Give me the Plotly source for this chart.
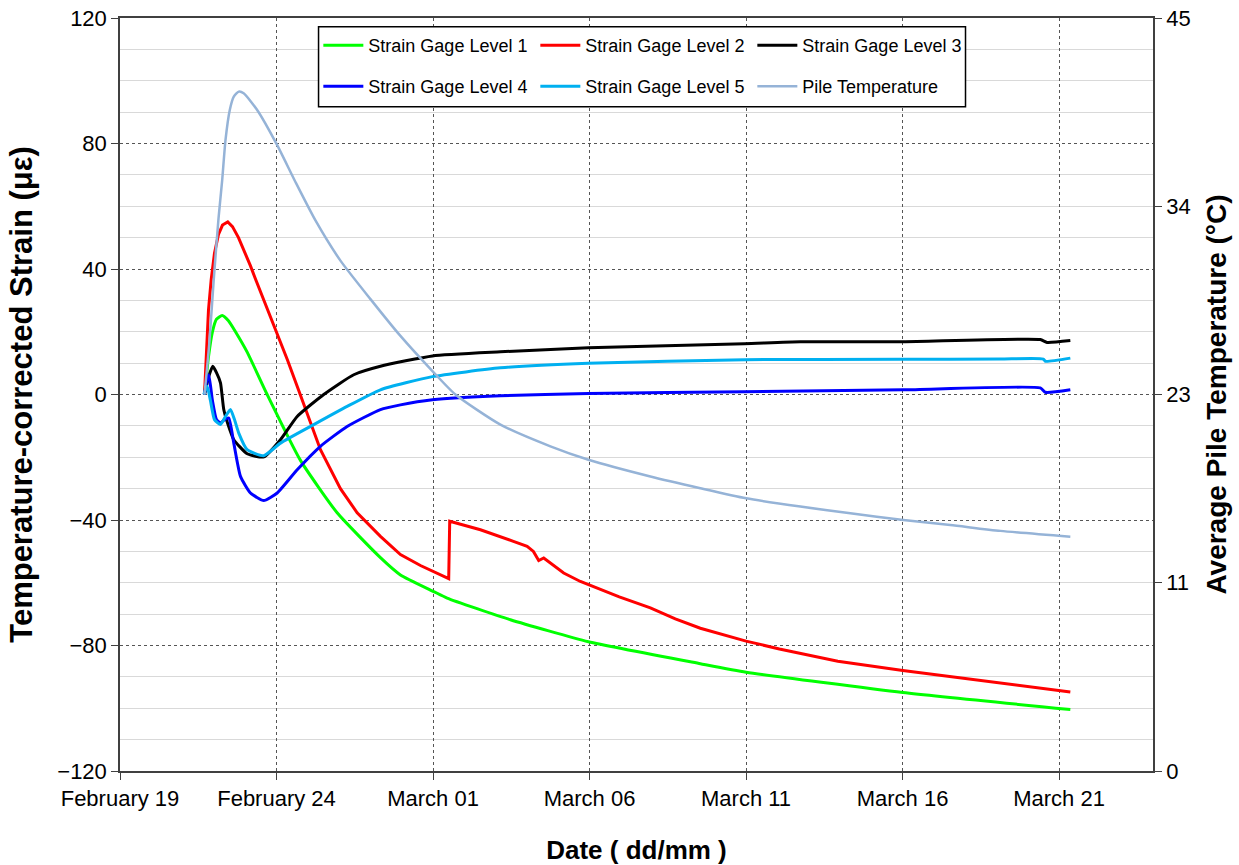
import plotly.graph_objects as go
import pandas as pd

# ---------------- data (days since 2014-02-19 00:00) ----------------
start_date = "2014-02-19"

temp_days = [2.699, 2.85, 2.996, 3.146, 3.264, 3.370, 3.507, 3.635, 3.794, 3.95, 4.382, 5.021,
             5.605, 6.244, 7.042, 8.001, 8.959, 9.981, 10.715, 12.153, 13.750, 14.963, 16.943,
             18.540, 20.000, 21.735, 23.331, 25.024, 26.525, 28.122, 30.359]
temp_vals = [22.5, 25.5, 29.4, 33.0, 35.3, 37.7, 39.5, 40.3, 40.6, 40.5, 39.5, 37.4,
             35.2, 32.9, 30.5, 28.2, 26.0, 23.9, 22.5, 20.7, 19.4, 18.6, 17.6,
             16.9, 16.3, 15.8, 15.4, 15.0, 14.7, 14.35, 14.0]

g1_days = [2.699, 2.827, 2.954, 3.082, 3.264, 3.465, 3.689, 4.063, 4.701, 5.765, 6.937,
           8.320, 8.959, 10.022, 10.450, 12.472, 14.963, 18.540, 20.000, 25.008, 30.359]
g1_vals = [0, 12, 20, 24, 25.2, 23.5, 20, 13.5, 0, -21, -37.7,
           -52, -57.5, -62.8, -64.9, -71.8, -78.8, -85.8, -88.5, -95.0, -100.4]

g2_days = [2.699, 2.763, 2.827, 2.913, 3.018, 3.146, 3.274, 3.443, 3.593, 3.785, 4.008,
           4.168, 4.328, 4.542, 5.021, 5.350, 5.701, 6.404, 7.042, 7.576, 8.320, 8.959,
           9.598, 10.022, 10.501, 10.533, 11.514, 12.568, 13.006, 13.207, 13.376, 13.536,
           14.174, 14.708, 14.963, 15.950, 16.943, 17.740, 18.540, 20.000, 21.064, 22.932,
           25.008, 27.323, 30.359]
g2_vals = [0, 15, 27, 36.6, 45, 51, 54, 55, 53.5, 50, 45,
           41, 36.8, 31.5, 19.6, 11, 1.5, -17.6, -30, -37.7, -45.2, -51,
           -54.5, -56.4, -58.7, -40.4, -43.1, -46.8, -48.4, -50, -52.9, -52.1,
           -56.9, -59.6, -60.6, -64.5, -68, -71.5, -74.5, -78.6, -81.1, -85,
           -88, -91, -94.8]

g3_days = [2.699, 2.843, 2.964, 3.082, 3.210, 3.315, 3.465, 3.635, 4.063, 4.593, 5.126,
           5.660, 6.509, 7.467, 8.320, 9.981, 12.153, 14.963, 19.945, 21.735, 25.024,
           29.400, 29.614, 30.359]
g3_vals = [0, 6, 9, 7, 3.7, -4.8, -10, -14.4, -18.9, -19.9, -14.4,
           -7, 0, 6.3, 9, 12.3, 13.6, 14.9, 16.2, 16.8, 16.8,
           17.5, 16.6, 17.2]

g4_days = [2.699, 2.763, 2.836, 2.954, 3.082, 3.210, 3.338, 3.475, 3.635, 3.849, 4.168,
           4.593, 5.021, 5.660, 6.404, 7.256, 8.320, 8.959, 9.981, 12.153, 14.963,
           19.945, 25.024, 29.400, 29.560, 30.359]
g4_vals = [0, 4, 6.3, -2, -8, -9.1, -8, -7.5, -15.5, -26.1, -31.4,
           -33.8, -31.4, -24, -16.5, -10.2, -4.8, -3.3, -1.7, -0.4, 0.3,
           0.9, 1.5, 2.1, 0.7, 1.5]

g5_days = [2.676, 2.785, 2.890, 3.018, 3.210, 3.370, 3.529, 3.657, 3.794, 4.063, 4.593,
           5.126, 6.190, 7.256, 8.320, 9.981, 12.153, 14.963, 19.945, 24.928, 28.122,
           29.496, 29.560, 30.359]
g5_vals = [0, 2.6, -2, -8, -9.6, -7, -4.8, -8, -12.3, -17.6, -19.5,
           -15.5, -9.6, -3.8, 1.5, 5.7, 8.5, 10, 11.1, 11.2, 11.3,
           11.3, 10.6, 11.6]

right_tick_vals = [0, 11.25, 22.5, 33.75, 45]
right_tick_text = ["0", "11", "23", "34", "45"]

# ---------------- figure ----------------
t0 = pd.Timestamp(start_date)


def to_dates(days):
    return [t0 + pd.Timedelta(days=d) for d in days]


FONT = "Liberation Sans, Arial, sans-serif"
fig = go.Figure()

series = [
    ("Strain Gage Level 1", g1_days, g1_vals, "#00FF00", "legend", "spline"),
    ("Strain Gage Level 2", g2_days, g2_vals, "#FF0000", "legend", "linear"),
    ("Strain Gage Level 3", g3_days, g3_vals, "#000000", "legend", "spline"),
    ("Strain Gage Level 4", g4_days, g4_vals, "#0000FF", "legend2", "spline"),
    ("Strain Gage Level 5", g5_days, g5_vals, "#00B0F0", "legend2", "spline"),
]
for name, d, v, c, lg, shp in series:
    fig.add_trace(go.Scatter(
        x=to_dates(d), y=v, name=name, mode="lines", legend=lg,
        line=dict(color=c, width=3, shape=shp, smoothing=0.5)))

fig.add_trace(go.Scatter(
    x=to_dates(temp_days), y=temp_vals, name="Pile Temperature", mode="lines",
    yaxis="y2", legend="legend2",
    line=dict(color="#95B3D7", width=2.5, shape="spline", smoothing=0.6)))

AX = "#404040"
fig.update_layout(
    width=1239, height=865,
    margin=dict(l=120, r=86, t=18, b=94),
    paper_bgcolor="white", plot_bgcolor="white",
    font=dict(family=FONT, size=21, color="#000000"),
    xaxis=dict(
        type="date", automargin=False,
        range=[t0, t0 + pd.Timedelta(days=33)],
        tick0=start_date, dtick=5 * 86400000, tickformat="%B %d",
        ticks="outside", ticklen=7, tickcolor=AX,
        showline=True, linecolor=AX, linewidth=1.5, mirror=True,
        showgrid=True, gridcolor="#555555", griddash="dot", gridwidth=1,
        tickfont=dict(size=22),
        title=dict(text="<b>Date ( dd/mm )</b>", font=dict(size=26), standoff=32),
    ),
    yaxis=dict(
        automargin=False,
        range=[-120, 120], tick0=0, dtick=40,
        ticks="outside", ticklen=7, tickcolor=AX,
        showline=True, linecolor=AX, linewidth=1.5,
        showgrid=True, gridcolor="#555555", griddash="dot", gridwidth=1,
        zeroline=False,
        minor=dict(dtick=10, showgrid=True, gridcolor="#D9D9D9", gridwidth=1.2,
                   griddash="solid"),
        tickfont=dict(size=22),
        title=dict(text="<b>Temperature-corrected Strain (\u03bc\u03b5)</b>",
                   font=dict(size=31), standoff=15),
    ),
    yaxis2=dict(
        automargin=False,
        overlaying="y", side="right", range=[0, 45],
        tickvals=right_tick_vals, ticktext=right_tick_text,
        ticks="outside", ticklen=7, tickcolor=AX,
        showline=True, linecolor=AX, linewidth=1.5,
        showgrid=False, zeroline=False,
        tickfont=dict(size=22),
        title=dict(text="<b>Average Pile Temperature (\u00b0C)</b>",
                   font=dict(size=28), standoff=17),
    ),
    legend=dict(orientation="h", x=0.192, xanchor="left", y=0.9635, yanchor="middle",
                entrywidth=162, itemwidth=40, bgcolor="rgba(0,0,0,0)", borderwidth=0,
                font=dict(size=18)),
    legend2=dict(orientation="h", x=0.192, xanchor="left", y=0.909, yanchor="middle",
                 entrywidth=162, itemwidth=40, bgcolor="rgba(0,0,0,0)", borderwidth=0,
                 font=dict(size=18)),
    shapes=[dict(type="rect", xref="paper", yref="paper",
                 x0=0.1922, x1=0.8185, y0=0.8822, y1=0.9884,
                 line=dict(color="#000000", width=1.5), fillcolor="white", layer="above")],
)

fig.write_html("out.html")
